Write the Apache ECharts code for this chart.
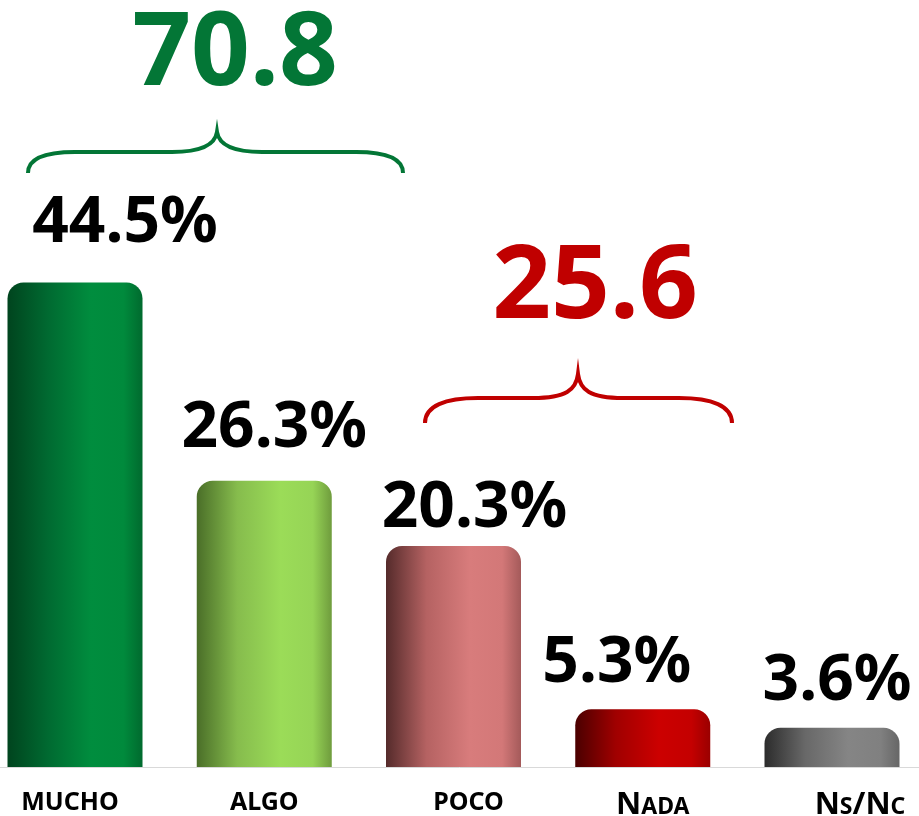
<!DOCTYPE html>
<html>
<head>
<meta charset="utf-8">
<script src="https://cdn.jsdelivr.net/npm/echarts@6/dist/echarts.min.js"></script>
<style>
  html, body { margin: 0; padding: 0; background: #fff; }
  #chart { width: 919px; height: 816px; }
</style>
</head>
<body>
<div id="chart"></div>
<script>
// ====== data ======
const categories = ['MUCHO', 'ALGO', 'POCO', 'Nada', 'Ns/Nc'];
const values = [44.5, 26.3, 20.3, 5.3, 3.6];
const groupTotals = [70.8, 25.6];

// label nudges (px) to sit like the original slide
const valueLabelShift = [[50, -27], [10, -20], [21, -5], [-26, -14], [5, -14]];
const catLabelShift = [[-5, 0], [0, 4], [15, 4], [10, 3], [28, 0]];

// brace shapes + total positions (annotation only)
const bracePaths = [
  'M28,173 C28,158 45,152 75,152 L172,152 C202,152 215,145 217,132 C219,145 232,152 262,152 L356,152 C386,152 403,158 403,173',
  'M425,423 C425,406 445,398 478,398 L533,398 C566,398 576,390 578,374 C580,390 590,398 623,398 L679,398 C712,398 732,406 732,423'
];
const totalPos = [[235, 107], [595, 340]];
const groupColors = ['#037636', '#c00000'];

// bar shading, left -> right
const barStops = [
  ['#00441e', '#006a31', '#008d3e', '#008a3c', '#006a2e'],
  ['#4a6e28', '#86bc4d', '#9bdc58', '#96d456', '#6f9c3d'],
  ['#552b2b', '#b56262', '#d87c7c', '#d37878', '#a45a5a'],
  ['#4a0000', '#a00000', '#cc0000', '#c40000', '#9a0000'],
  ['#2c2c2c', '#686868', '#858585', '#808080', '#666666']
];

const FONT = '"Noto Sans", "Open Sans", sans-serif';
const chart = echarts.init(document.getElementById('chart'));

function barGradient(stops) {
  return {
    type: 'linear', x: 0, y: 0, x2: 1, y2: 0,
    colorStops: [
      { offset: 0, color: stops[0] },
      { offset: 0.3, color: stops[1] },
      { offset: 0.62, color: stops[2] },
      { offset: 0.86, color: stops[3] },
      { offset: 1, color: stops[4] }
    ]
  };
}

// rich styles for the category labels (small caps for mixed case)
const rich = {};
categories.forEach((c, i) => {
  const dy = catLabelShift[i][1];
  const base = { fontFamily: FONT, fontWeight: 'bold', color: '#000', verticalAlign: 'bottom' };
  rich['n' + i] = Object.assign({}, base, { fontSize: 25, lineHeight: 25, padding: [dy, 0, 0, 0] });
  rich['b' + i] = Object.assign({}, base, { fontSize: 31, lineHeight: 31, padding: [dy, 0, 0, 0] });
  rich['s' + i] = Object.assign({}, base, { fontSize: 23, lineHeight: 23, padding: [dy, 0, 2, 0] });
  rich['g' + i] = Object.assign({}, base, { fontSize: 10, lineHeight: 10, width: Math.abs(catLabelShift[i][0]) * 2 });
});

function catLabel(text, i) {
  let out = '';
  if (!/[a-z]/.test(text)) {
    out = `{n${i}|${text}}`;
  } else {
    let run = '', kind = '';
    for (const ch of text) {
      const k = /[a-z]/.test(ch) ? 's' : 'b';
      if (k !== kind && run) { out += `{${kind}${i}|${kind === 's' ? run.toUpperCase() : run}}`; run = ''; }
      kind = k; run += ch;
    }
    if (run) out += `{${kind}${i}|${kind === 's' ? run.toUpperCase() : run}}`;
  }
  const dx = catLabelShift[i][0];
  if (dx > 0) out = `{g${i}| }` + out;
  if (dx < 0) out = out + `{g${i}| }`;
  return out;
}

const barData = values.map((v, i) => ({
  value: v,
  itemStyle: { color: barGradient(barStops[i]) },
  label: { offset: valueLabelShift[i] }
}));

chart.setOption({
  backgroundColor: '#fff',
  animation: false,
  grid: [
    { left: 75, right: 87, top: 5, bottom: 49, outerBoundsMode: 'none', containLabel: false },
    { left: 0, right: 0, top: 5, bottom: 49, outerBoundsMode: 'none', containLabel: false }
  ],
  xAxis: [
    {
      type: 'category',
      gridIndex: 0,
      data: categories,
      boundaryGap: false,
      axisLine: { show: false },
      axisTick: { show: false },
      splitLine: { show: false },
      axisLabel: {
        margin: 23,
        interval: 0,
        formatter: (val, idx) => catLabel(val, idx),
        rich: rich
      }
    },
    {
      // full-width baseline
      type: 'value',
      gridIndex: 1,
      min: 0, max: 1,
      axisLine: { show: true, onZero: false, lineStyle: { color: '#d9d9d9', width: 1 } },
      axisTick: { show: false },
      axisLabel: { show: false },
      splitLine: { show: false }
    }
  ],
  yAxis: [
    { type: 'value', gridIndex: 0, min: 0, max: 70, show: false, splitLine: { show: false } },
    { type: 'value', gridIndex: 1, min: 0, max: 1, show: false, splitLine: { show: false } }
  ],
  series: [
    {
      type: 'bar',
      barWidth: 135,
      data: barData,
      itemStyle: { borderRadius: [16, 16, 0, 0] },
      label: {
        show: true,
        position: 'top',
        distance: 0,
        formatter: '{c}%',
        fontFamily: FONT,
        fontWeight: 'bold',
        fontSize: 64,
        lineHeight: 64,
        color: '#000'
      }
    },
    {
      type: 'custom',
      coordinateSystem: 'none',
      data: groupTotals,
      renderItem: (params, api) => {
        const i = params.dataIndex;
        return {
          type: 'group',
          children: [
            {
              type: 'path',
              shape: { pathData: bracePaths[i] },
              style: { fill: 'none', stroke: groupColors[i], lineWidth: 4 }
            },
            {
              type: 'text',
              x: totalPos[i][0], y: totalPos[i][1],
              style: {
                text: String(api.value(0)),
                fontFamily: FONT, fontWeight: 'bold', fontSize: 103,
                fill: groupColors[i], align: 'center', verticalAlign: 'bottom'
              }
            }
          ]
        };
      }
    }
  ]
});
</script>
</body>
</html>
